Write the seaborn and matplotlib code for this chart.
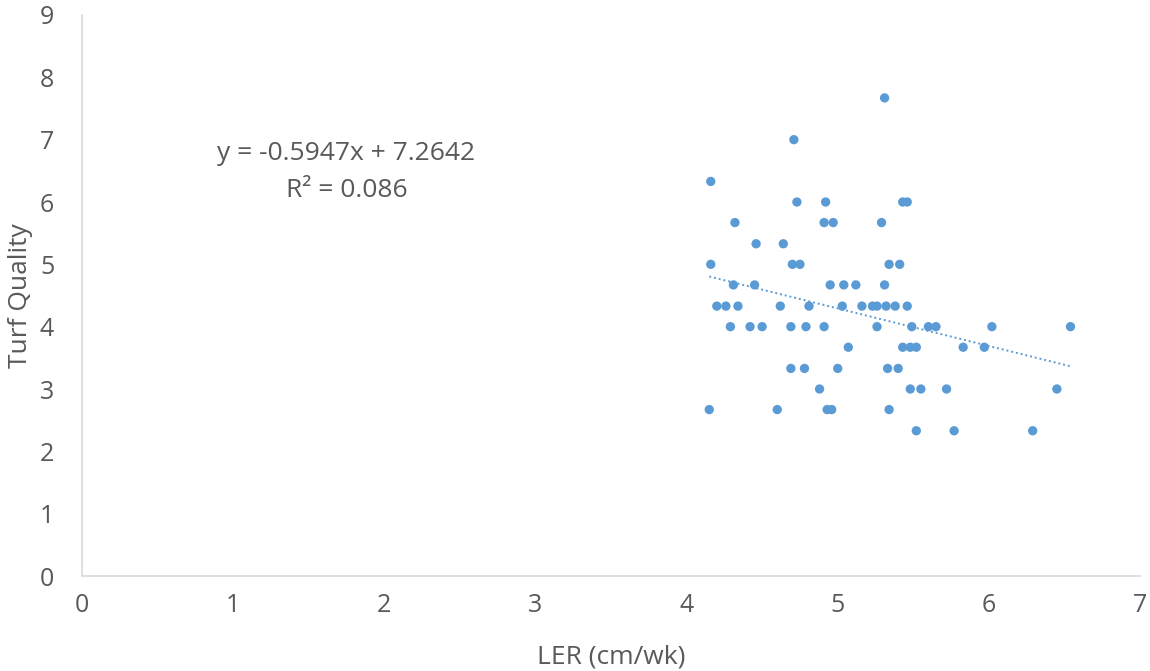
import numpy as np
import pandas as pd
import matplotlib
matplotlib.use("Agg")
import matplotlib.pyplot as plt
import seaborn as sns

# Data (LER cm/wk vs Turf Quality)
ler = [5.31, 4.71, 4.16,
       4.73, 4.92, 5.43, 5.46,
       4.32, 4.91, 4.97, 5.29,
       4.46, 4.64,
       4.16, 4.70, 4.75, 5.34, 5.41,
       4.31, 4.45, 4.95, 5.04, 5.12, 5.31,
       4.20, 4.26, 4.34, 4.62, 4.81, 5.03, 5.16, 5.23, 5.26, 5.32, 5.38, 5.46,
       4.29, 4.42, 4.50, 4.69, 4.79, 4.91, 5.26, 5.49, 5.60, 5.65, 6.02, 6.54,
       5.07, 5.43, 5.48, 5.52, 5.83, 5.97,
       4.69, 4.78, 5.00, 5.33, 5.40,
       4.88, 5.48, 5.55, 5.72, 6.45,
       4.15, 4.60, 4.93, 4.96, 5.34,
       5.52, 5.77, 6.29]
quality = [7.67, 7.0, 6.33,
           6.0, 6.0, 6.0, 6.0,
           5.67, 5.67, 5.67, 5.67,
           5.33, 5.33,
           5.0, 5.0, 5.0, 5.0, 5.0,
           4.67, 4.67, 4.67, 4.67, 4.67, 4.67,
           4.33, 4.33, 4.33, 4.33, 4.33, 4.33, 4.33, 4.33, 4.33, 4.33, 4.33, 4.33,
           4.0, 4.0, 4.0, 4.0, 4.0, 4.0, 4.0, 4.0, 4.0, 4.0, 4.0, 4.0,
           3.67, 3.67, 3.67, 3.67, 3.67, 3.67,
           3.33, 3.33, 3.33, 3.33, 3.33,
           3.0, 3.0, 3.0, 3.0, 3.0,
           2.67, 2.67, 2.67, 2.67, 2.67,
           2.33, 2.33, 2.33]
x_ticks = [0, 1, 2, 3, 4, 5, 6, 7]
y_ticks = [0, 1, 2, 3, 4, 5, 6, 7, 8, 9]
equation_text = "y = -0.5947x + 7.2642"
r2_text = "R² = 0.086"

df = pd.DataFrame({"LER (cm/wk)": ler, "Turf Quality": quality})

sns.set_theme(style="white")
plt.rcParams['font.family'] = ['Open Sans', 'DejaVu Sans']

blue = "#5B9BD5"
grey_txt = "#595959"

fig = plt.figure(figsize=(11.5, 6.71), dpi=100)
ax = fig.add_axes([82/1150, 1 - 576/671, (1140-82)/1150, (576-15)/671])

sns.scatterplot(data=df, x="LER (cm/wk)", y="Turf Quality", ax=ax,
                color=blue, s=45, edgecolor="none", zorder=3)
sns.regplot(data=df, x="LER (cm/wk)", y="Turf Quality", ax=ax, ci=None,
            scatter=False, truncate=True,
            line_kws=dict(color=blue, lw=1.4, ls=(0, (1, 1.5))))

ax.set_xlim(0, 7)
ax.set_ylim(0, 9)
ax.set_xticks(x_ticks)
ax.set_yticks(y_ticks)
ax.tick_params(axis="both", length=0, labelsize=18, colors=grey_txt)
ax.tick_params(axis="x", pad=12)
ax.tick_params(axis="y", pad=20)
for s in ["top", "right"]:
    ax.spines[s].set_visible(False)
for s in ["left", "bottom"]:
    ax.spines[s].set_color("#D9D9D9")
    ax.spines[s].set_linewidth(1.2)
ax.grid(False)

ax.set_xlabel("LER (cm/wk)", fontsize=19, color=grey_txt, labelpad=19)
ax.set_ylabel("Turf Quality", fontsize=19, color=grey_txt, labelpad=5)

ax.text(1.75, 6.78, equation_text, ha="center", va="center", fontsize=19, color=grey_txt)
ax.text(1.75, 6.19, r2_text, ha="center", va="center", fontsize=19, color=grey_txt)

fig.savefig("out.png", dpi=100, facecolor="white")
